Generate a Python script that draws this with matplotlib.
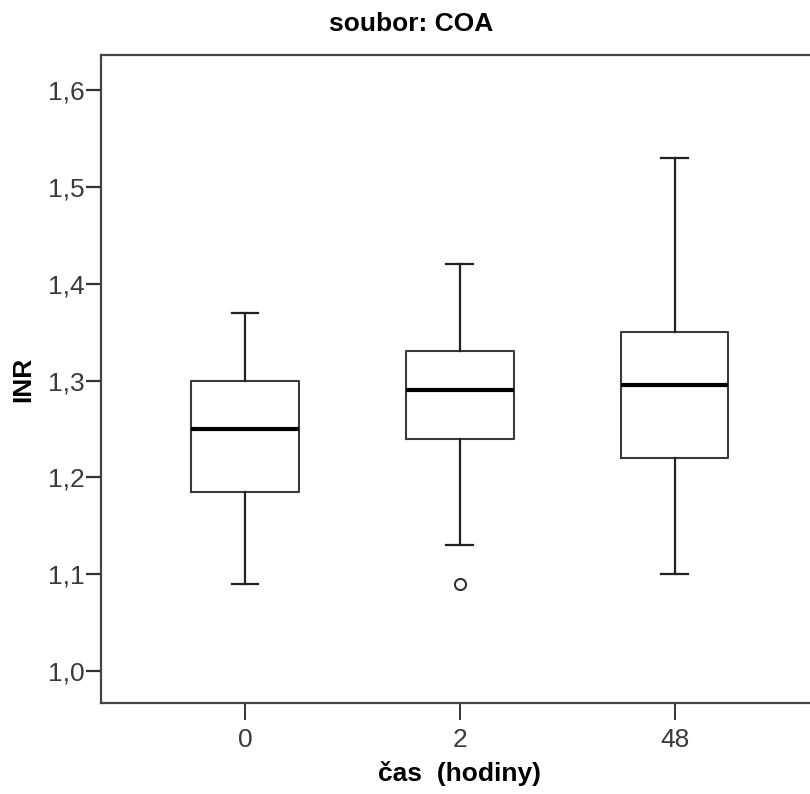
import matplotlib
matplotlib.use("Agg")
import matplotlib.pyplot as plt
from matplotlib.ticker import FuncFormatter

plt.rcParams['font.family'] = ['Liberation Sans', 'DejaVu Sans']

# INR summary per time point (hours)
groups = ['0', '2', '48']
whisker_low = [1.09, 1.13, 1.10]
q1 = [1.185, 1.24, 1.22]
median = [1.25, 1.29, 1.295]
q3 = [1.30, 1.33, 1.35]
whisker_high = [1.37, 1.42, 1.53]
outliers = [[], [1.09], []]

stats = []
for i, name in enumerate(groups):
    stats.append({
        'label': name,
        'whislo': whisker_low[i],
        'q1': q1[i],
        'med': median[i],
        'q3': q3[i],
        'whishi': whisker_high[i],
        'fliers': outliers[i],
    })

fig = plt.figure(figsize=(8.1, 7.94), dpi=100)
ax = fig.add_axes([0.1247, 0.1146, 0.886, 0.816])

edge = '#3a3a3a'
ax.bxp(stats, positions=[1, 2, 3], widths=0.5,
       boxprops=dict(color=edge, linewidth=1.5),
       whiskerprops=dict(color='#222222', linewidth=1.6),
       capprops=dict(color='#222222', linewidth=1.6),
       capwidths=0.125,
       medianprops=dict(color='black', linewidth=3),
       flierprops=dict(marker='o', markersize=8, markerfacecolor='white',
                       markeredgecolor='#333333', markeredgewidth=1.5))

ax.set_xlim(0.33, 3.67)
ax.set_ylim(0.967, 1.636)
ax.set_yticks([1.0, 1.1, 1.2, 1.3, 1.4, 1.5, 1.6])
ax.yaxis.set_major_formatter(FuncFormatter(lambda v, p: f'{v:.1f}'.replace('.', ',')))
ax.set_xticks([1, 2, 3])
ax.set_xticklabels(groups)

for side in ['left', 'bottom', 'top', 'right']:
    ax.spines[side].set_color('#444444')
    ax.spines[side].set_linewidth(1.6)

ax.tick_params(axis='y', direction='out', length=11, width=1.6, color='#333333',
               labelsize=19, labelcolor='#3a3a3a', pad=1)
ax.tick_params(axis='x', direction='out', length=12, width=1.4, color='#333333',
               labelsize=19, labelcolor='#3a3a3a', pad=6)

ax.set_xlabel('čas  (hodiny)', fontsize=19, fontweight='bold')
ax.xaxis.set_label_coords(0.5, -0.090)
ax.set_ylabel('INR', fontsize=19, fontweight='bold')
ax.yaxis.set_label_coords(-0.092, 0.5)
fig.text(0.507, 0.970, 'soubor: COA', ha='center', va='center',
         fontsize=19, fontweight='bold')

fig.savefig('out.png', dpi=100)
